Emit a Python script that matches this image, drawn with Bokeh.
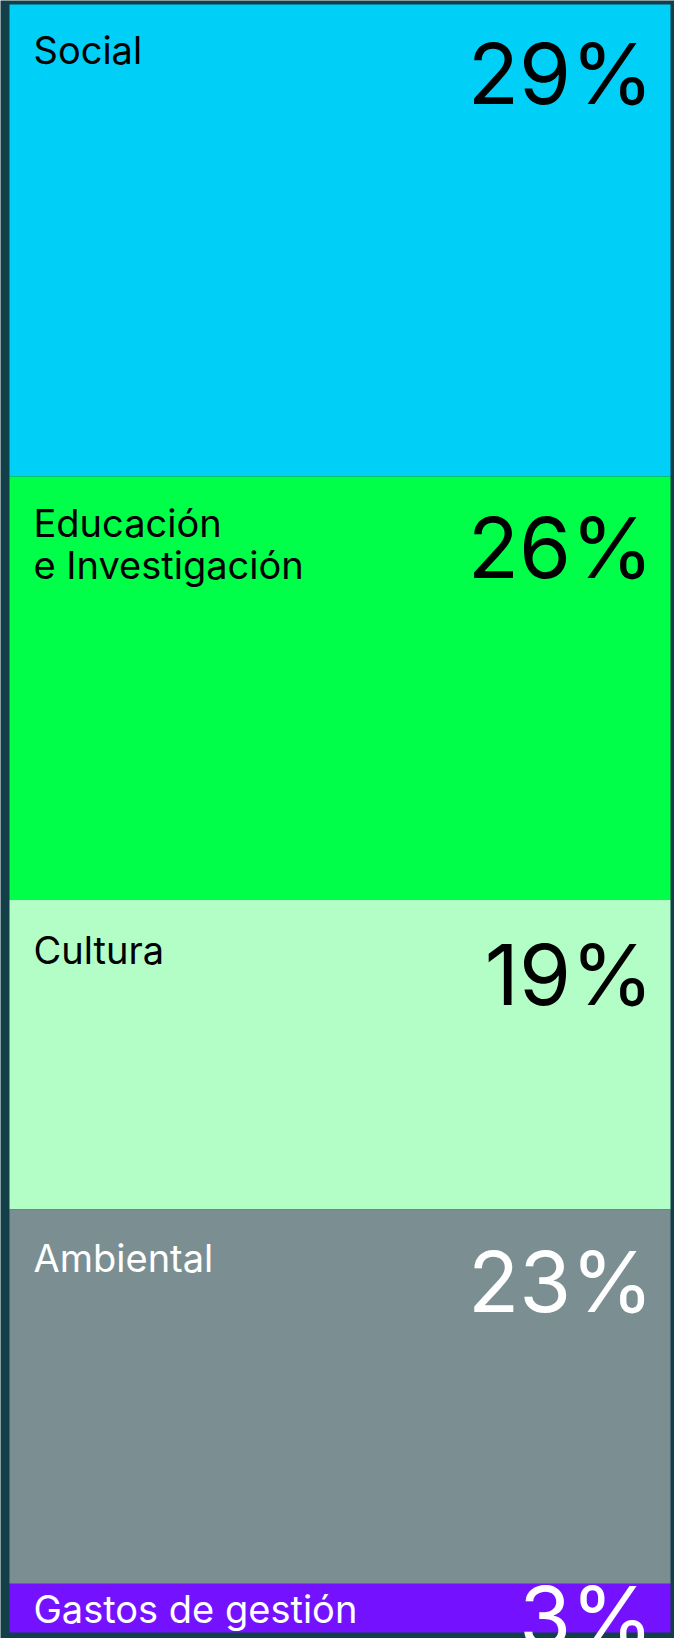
from bokeh.plotting import figure
from bokeh.models import Range1d, ColumnDataSource
from bokeh.core.properties import value
from bokeh.embed import file_html
from bokeh.resources import INLINE

# ---- data ----
categories = ["Social", "Educación\ne Investigación", "Cultura", "Ambiental", "Gastos de gestión"]
shares = [29, 26, 19, 23, 3]
pct_labels = ["29%", "26%", "19%", "23%", "3%"]

# ---- styles / layout ----
colors = ["#00CFF7", "#00FF48", "#B2FEC6", "#7B8F93", "#7412FF"]
text_colors = ["#000000", "#000000", "#000000", "#FFFFFF", "#FFFFFF"]
label_dy = [45.5, 46.5, 50.5, 48.5, 25.5]     # px below segment top
pct_dy = [69, 71, 75, 72, 33]
BG = "#123F48"
FONT = "Inter"
W, H = 674, 1638
LEFT, RIGHT, TOP, BOTTOM = 9, 670, 4, 1632

total = sum(shares)
starts, ends = [], []
acc = 0
for s in shares:
    starts.append(acc)
    acc += s
    ends.append(acc)

ppu_y = (BOTTOM - TOP) / total
ppu_x = (RIGHT - LEFT)
x_range = Range1d(start=-LEFT / ppu_x, end=1 + (W - RIGHT) / ppu_x)
y_range = Range1d(start=total + (H - BOTTOM) / ppu_y, end=-TOP / ppu_y)

p = figure(width=W, height=H, x_range=x_range, y_range=y_range,
           output_backend="svg", toolbar_location=None,
           x_axis_location=None, y_axis_location=None,
           min_border=0, min_border_left=0, min_border_right=0,
           min_border_top=0, min_border_bottom=0,
           background_fill_color=BG, border_fill_color=BG,
           outline_line_color=None)
p.grid.visible = False

src = ColumnDataSource(dict(left=[0] * len(shares), right=[1] * len(shares),
                            top=starts, bottom=ends, color=colors,
                            pct=pct_labels, tcolor=text_colors,
                            pdy=pct_dy))
p.quad(left="left", right="right", top="top", bottom="bottom",
       fill_color="color", line_color=None, source=src)

# category labels (split multi-line labels into lines)
lx, ly, lt, lc, loff = [], [], [], [], []
for i, cat in enumerate(categories):
    for j, line in enumerate(cat.split("\n")):
        lx.append(0)
        ly.append(starts[i])
        lt.append(line)
        lc.append(text_colors[i])
        loff.append(label_dy[i] + j * 42)
lsrc = ColumnDataSource(dict(x=lx, y=ly, text=lt, color=lc, off=loff))
p.text(x="x", y="y", text="text", text_color="color", source=lsrc,
       x_offset=24, y_offset="off", text_align="left",
       text_baseline="alphabetic", text_font=value(FONT),
       text_font_size="38px")

p.text(x=1, y="top", text="pct", text_color="tcolor", source=src,
       x_offset=-17, y_offset="pdy", text_align="right",
       text_baseline="alphabetic", text_font=value(FONT),
       text_font_size="84px")

open("out.html", "w").write(file_html(p, INLINE))
